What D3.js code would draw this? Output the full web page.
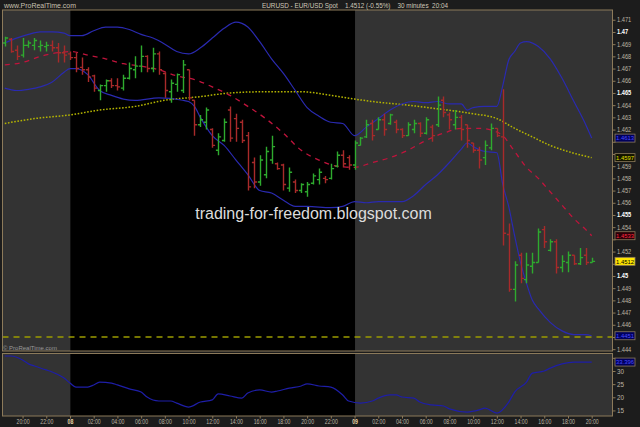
<!DOCTYPE html>
<html><head><meta charset="utf-8">
<script src="https://cdn.jsdelivr.net/npm/d3@7/dist/d3.min.js"></script>
<style>html,body{margin:0;padding:0;background:#1c1c1c;}svg{display:block;}text{font-family:"Liberation Sans",Arial,sans-serif;white-space:pre;}</style>
</head><body>
<svg id="c" width="640" height="427"></svg>
<script>
// ---------- DATA ----------
const timeLabels = ["20:00","22:00","08","02:00","04:00","06:00","08:00","10:00","12:00","14:00","16:00","18:00","20:00","22:00","09","02:00","04:00","06:00","08:00","10:00","12:00","14:00","16:00","18:00","20:00"];
const timeLabelIdx = [3,7,11,15,19,23,27,31,35,39,43,47,51,55,59,63,67,71,75,79,83,87,91,95,99];

const openP = [1.4691,1.4694,1.4685,1.4681,1.4689,1.4689,1.4688,1.4688,1.4689,1.4687,
1.4683,1.4682,1.4679,1.4671,1.4669,1.4664,1.4652,1.4656,1.4660,1.4656,
1.4654,1.4662,1.4669,1.4672,1.4680,1.4670,1.4682,1.4666,1.4651,1.4657,
1.4652,1.4669,1.4644,1.4624,1.4626,1.4620,1.4603,1.4611,1.4636,1.4629,
1.4626,1.4615,1.4593,1.4577,1.4583,1.4595,1.4592,1.4591,1.4572,1.4577,
1.4570,1.4569,1.4576,1.4579,1.4580,1.4580,1.4590,1.4599,1.4597,1.4591,
1.4607,1.4614,1.4625,1.4620,1.4628,1.4625,1.4626,1.4620,1.4615,1.4620,
1.4625,1.4617,1.4622,1.4624,1.4644,1.4632,1.4624,1.4630,1.4624,1.4609,
1.4603,1.4597,1.4605,1.4621,1.4614,1.4534,1.4489,1.4517,1.4497,1.4508,
1.4511,1.4538,1.4521,1.4528,1.4507,1.4511,1.4517,1.4510,1.4517,1.4511];
const highP = [1.4696,1.4695,1.4689,1.4695,1.4693,1.4695,1.4693,1.4692,1.4693,1.4691,
1.4689,1.4684,1.4683,1.4679,1.4671,1.4665,1.4657,1.4661,1.4662,1.4662,
1.4665,1.4675,1.4680,1.4689,1.4681,1.4687,1.4684,1.4667,1.4661,1.4666,
1.4677,1.4669,1.4644,1.4632,1.4638,1.4621,1.4617,1.4629,1.4639,1.4633,
1.4628,1.4618,1.4597,1.4599,1.4606,1.4615,1.4593,1.4592,1.4589,1.4579,
1.4576,1.4577,1.4584,1.4588,1.4582,1.4592,1.4602,1.4603,1.4599,1.4611,
1.4614,1.4628,1.4628,1.4630,1.4633,1.4633,1.4628,1.4621,1.4626,1.4628,
1.4626,1.4630,1.4624,1.4647,1.4647,1.4634,1.4636,1.4632,1.4624,1.4609,
1.4606,1.4611,1.4625,1.4621,1.4653,1.4543,1.4512,1.4519,1.4519,1.4519,
1.4539,1.4541,1.4530,1.4530,1.4517,1.4520,1.4517,1.4523,1.4523,1.4515];
const lowP = [1.4688,1.4683,1.4677,1.4679,1.4687,1.4685,1.4684,1.4684,1.4684,1.4675,
1.4675,1.4677,1.4667,1.4665,1.4659,1.4651,1.4644,1.4651,1.4654,1.4652,
1.4652,1.4661,1.4662,1.4667,1.4667,1.4667,1.4665,1.4646,1.4642,1.4651,
1.4650,1.4644,1.4615,1.4622,1.4620,1.4605,1.4599,1.4610,1.4610,1.4610,
1.4609,1.4570,1.4572,1.4574,1.4580,1.4592,1.4587,1.4570,1.4569,1.4568,
1.4568,1.4565,1.4575,1.4575,1.4576,1.4579,1.4589,1.4589,1.4587,1.4587,
1.4607,1.4613,1.4611,1.4620,1.4615,1.4624,1.4617,1.4613,1.4615,1.4617,
1.4614,1.4616,1.4610,1.4622,1.4630,1.4620,1.4620,1.4611,1.4605,1.4601,
1.4588,1.4591,1.4603,1.4614,1.4525,1.4487,1.4479,1.4494,1.4494,1.4502,
1.4511,1.4523,1.4520,1.4502,1.4503,1.4503,1.4509,1.4509,1.4509,1.4511];
const closeP = [1.4695,1.4684,1.4680,1.4689,1.4691,1.4693,1.4689,1.4689,1.4687,1.4683,
1.4681,1.4679,1.4670,1.4669,1.4663,1.4654,1.4656,1.4660,1.4656,1.4655,
1.4662,1.4670,1.4672,1.4680,1.4670,1.4682,1.4669,1.4652,1.4658,1.4665,
1.4673,1.4646,1.4624,1.4628,1.4636,1.4607,1.4614,1.4626,1.4613,1.4621,
1.4611,1.4573,1.4577,1.4595,1.4602,1.4606,1.4588,1.4575,1.4585,1.4570,
1.4575,1.4575,1.4582,1.4585,1.4579,1.4588,1.4599,1.4592,1.4591,1.4609,
1.4613,1.4624,1.4615,1.4628,1.4620,1.4632,1.4620,1.4615,1.4624,1.4625,
1.4617,1.4628,1.4615,1.4640,1.4634,1.4628,1.4630,1.4620,1.4611,1.4603,
1.4595,1.4607,1.4621,1.4615,1.4535,1.4489,1.4509,1.4498,1.4509,1.4511,
1.4536,1.4528,1.4528,1.4507,1.4512,1.4517,1.4510,1.4515,1.4511,1.4512];

// Bollinger upper / lower bands  [bar index, price]
const upperBand = [[0,1.4691],[2,1.4695],[4,1.4698],[6,1.4700],[8,1.4700],[10,1.4699],[11,1.4697],[13,1.4697],[15,1.4701],[17,1.4704],[19,1.4704],[21,1.4702],[23,1.4698],[25,1.4695],[27,1.4690],[29,1.4684],[31,1.4682],[33,1.4687],[35,1.4695],[37,1.4703],[39,1.4708],[41,1.4704],[43,1.4692],[45,1.4678],[47,1.4666],[49,1.4652],[51,1.4638],[53,1.4631],[55,1.4626],[57,1.4625],[59,1.4615],[61,1.4622],[63,1.4629],[65,1.4636],[67,1.4641],[69,1.4643],[71,1.4642],[73,1.4643],[75,1.4641],[77,1.4641],[78,1.4636],[79,1.4638],[81,1.4639],[83,1.4639],[84,1.4656],[85,1.4677],[86,1.4684],[87,1.4691],[88,1.4692],[90,1.4688],[92,1.4678],[94,1.4662],[96,1.4643],[98,1.4624],[99,1.4613]];
const lowerBand = [[0,1.4654],[2,1.4652],[4,1.4653],[6,1.4655],[8,1.4659],[10,1.4667],[11,1.4670],[12,1.4670],[14,1.4665],[16,1.4652],[18,1.4648],[20,1.4645],[22,1.4644],[26,1.4646],[30,1.4644],[31,1.4643],[32,1.4639],[33,1.4630],[35,1.4615],[37,1.4607],[39,1.4595],[41,1.4583],[43,1.4570],[45,1.4568],[47,1.4562],[49,1.4557],[51,1.4557],[55,1.4556],[57,1.4557],[59,1.4561],[61,1.4560],[63,1.4561],[67,1.4561],[69,1.4566],[71,1.4575],[73,1.4583],[75,1.4593],[77,1.4604],[78,1.4609],[79,1.4606],[81,1.4602],[83,1.4601],[84,1.4575],[85,1.4557],[86,1.4533],[87,1.4511],[88,1.4494],[89,1.4480],[90,1.4473],[92,1.4462],[94,1.4455],[96,1.4452],[98,1.4452],[99,1.4451]];
// short moving average (red dashed) and long moving average (yellow dotted)
const shortMA = [[0,1.4673],[3,1.4675],[6,1.4680],[9,1.4683],[11,1.4684],[14,1.4681],[17,1.4678],[20,1.4674],[23,1.4672],[26,1.4669],[29,1.4664],[32,1.4661],[35,1.4655],[38,1.4648],[41,1.4639],[44,1.4629],[47,1.4617],[50,1.4603],[53,1.4595],[56,1.4590],[59,1.4589],[62,1.4593],[65,1.4597],[68,1.4603],[71,1.4611],[74,1.4617],[77,1.4621],[80,1.4621],[83,1.4618],[84,1.4615],[86,1.4602],[88,1.4589],[90,1.4580],[92,1.4569],[94,1.4558],[96,1.4547],[98,1.4538],[99,1.4533]];
const longMA = [[0,1.4625],[5,1.4629],[11,1.4632],[16,1.4636],[22,1.4639],[27,1.4644],[33,1.4647],[38,1.4650],[44,1.4651],[50,1.4651],[55,1.4648],[59,1.4645],[62,1.4643],[68,1.4640],[73,1.4637],[79,1.4633],[83,1.4629],[86,1.4621],[89,1.4614],[92,1.4607],[95,1.4602],[99,1.4597]];
const levelLine = [1.4450];
// lower panel indicator
const indicator = [[0,35.7],[1,35.7],[3,34.2],[4,32.7],[5,31.9],[7,30.4],[8,29.6],[10,27.3],[11,25.4],[12,23.9],[14,23.9],[15,24.7],[16,25.8],[18,25.4],[19,24.7],[21,23.2],[23,22.0],[24,20.1],[26,18.6],[28,18.6],[29,17.8],[31,16.3],[33,18.2],[35,19.0],[36,21.3],[38,20.5],[40,19.7],[41,21.6],[43,22.8],[45,22.0],[46,22.4],[48,23.5],[50,24.3],[51,25.1],[53,24.3],[55,23.9],[57,20.9],[58,18.6],[60,17.8],[62,18.6],[63,19.7],[65,20.9],[66,20.9],[67,20.1],[69,19.7],[70,18.2],[72,17.1],[74,16.7],[75,15.6],[78,14.4],[80,15.2],[81,15.9],[83,14.0],[85,18.2],[86,22.0],[88,25.8],[89,29.2],[91,30.0],[92,31.1],[94,32.7],[96,33.4],[99,33.396]];

const priceTicks = [1.444,1.445,1.446,1.447,1.448,1.449,1.450,1.451,1.452,1.453,1.454,1.455,1.456,1.457,1.458,1.459,1.460,1.461,1.462,1.463,1.464,1.465,1.466,1.467,1.468,1.469,1.470,1.471];
const boldTicks = [1.445,1.450,1.455,1.460,1.465,1.470];
const indTicks = [15,20,25,30,35];
const headerLeft = "www.ProRealTime.com";
const titleText = "EURUSD - EUR/USD Spot    1.4512 (-0.55%)    30 minutes  20:04";
const watermark = "trading-for-freedom.blogspot.com";
const copyright = "\u00a9 ProRealTime.com";

// ---------- LAYOUT ----------
const W=640,H=427;
const L=2.5,R=612.5,T=10,B1=351,T2=353.5,B2=416;
const svg=d3.select("#c");
svg.append("rect").attr("width",W).attr("height",H).attr("fill","#1c1c1c");

const x=d3.scaleLinear().domain([0,openP.length-1]).range([4.77,591.7]);
const y=d3.scaleLinear().domain([1.44385,1.4718]).range([B1,T]);
const y2=d3.scaleLinear().domain([12.89,36.65]).range([B2,T2]);

const BORDER="#8c7a5a";
const dayStarts = timeLabelIdx.filter((d,i)=>timeLabels[i].length===2);
const edges=[L,...dayStarts.map(d=>x(d)+0.5),R];

const defs=svg.append("defs");
defs.append("clipPath").attr("id","cm").append("rect").attr("x",L).attr("y",T).attr("width",R-L).attr("height",B1-T);
defs.append("clipPath").attr("id","cl").append("rect").attr("x",L).attr("y",T2).attr("width",R-L).attr("height",B2-T2);

function shade(top,bot){
  for(let k=0;k<edges.length-1;k++){
    svg.append("rect").attr("x",edges[k]).attr("y",top).attr("width",edges[k+1]-edges[k]).attr("height",bot-top)
      .attr("fill",k%2===0?"#333333":"#000000");
  }
}
shade(T,B1); shade(T2,B2);

function condense(sel,f){sel.each(function(){const w=this.getComputedTextLength();d3.select(this).attr("textLength",w*f).attr("lengthAdjust","spacingAndGlyphs");});}

// ---------- MAIN PANEL ----------
const gm=svg.append("g").attr("clip-path","url(#cm)");
gm.selectAll("line.level").data(levelLine).join("line").attr("x1",L).attr("x2",R)
  .attr("y1",d=>y(d)).attr("y2",d=>y(d)).attr("stroke","#9c9c00").attr("stroke-width",1.4).attr("stroke-dasharray","6,5");

const line=d3.line().x(d=>x(d[0])).y(d=>y(d[1])).curve(d3.curveMonotoneX);
gm.append("path").attr("d",line(longMA)).attr("fill","none").attr("stroke","#b4b400").attr("stroke-width",1.5).attr("stroke-dasharray","1.6,1.6");
gm.append("path").attr("d",line(upperBand)).attr("fill","none").attr("stroke","#2a2ab0").attr("stroke-width",1.2);
gm.append("path").attr("d",line(lowerBand)).attr("fill","none").attr("stroke","#2a2ab0").attr("stroke-width",1.2);
gm.append("path").attr("d",line(shortMA)).attr("fill","none").attr("stroke","#c0143c").attr("stroke-width",1.3).attr("stroke-dasharray","5,5");

const bars=d3.range(openP.length).map(i=>({i,o:openP[i],h:highP[i],l:lowP[i],c:closeP[i]}));
gm.selectAll("path.bar").data(bars).join("path").attr("class","bar")
  .attr("d",d=>{const cx=Math.round(x(d.i))+0.5;return `M${cx},${y(d.h)}V${y(d.l)}M${cx-2.6},${y(d.o)}H${cx}M${cx},${y(d.c)}H${cx+2.6}`;})
  .attr("fill","none").attr("stroke-width",1.4)
  .attr("stroke",d=>d.c>=d.o?"#2eaa2e":"#a82a2a");

svg.append("text").attr("x",313.5).attr("y",219).attr("text-anchor","middle").attr("font-size",16).attr("fill","#dcdcdc").text(watermark);
svg.append("text").attr("x",3).attr("y",350).attr("font-size",6).attr("fill","#9a9a9a").text(copyright);

// ---------- LOWER PANEL ----------
const gl=svg.append("g").attr("clip-path","url(#cl)");
const line2=d3.line().x(d=>x(d[0])).y(d=>y2(d[1])).curve(d3.curveMonotoneX);
gl.append("path").attr("d",line2(indicator)).attr("fill","none").attr("stroke","#1e1ea8").attr("stroke-width",1.2);

// borders
svg.append("rect").attr("x",L).attr("y",T).attr("width",R-L).attr("height",B1-T).attr("fill","none").attr("stroke",BORDER);
svg.append("rect").attr("x",L).attr("y",T2).attr("width",R-L).attr("height",B2-T2).attr("fill","none").attr("stroke",BORDER);

// ---------- VALUE BOXES (positions) ----------
const boxes=[
  {v:upperBand[upperBand.length-1][1],s:y,fill:"#00005c",col:"#4c4cff",d:4},
  {v:longMA[longMA.length-1][1],s:y,fill:"#141400",col:"#e0e000",d:4},
  {v:shortMA[shortMA.length-1][1],s:y,fill:"#2a0008",col:"#ff2a40",d:4},
  {v:closeP[closeP.length-1],s:y,fill:"#ffe600",col:"#000000",d:4},
  {v:lowerBand[lowerBand.length-1][1],s:y,fill:"#00005c",col:"#4c4cff",d:4},
  {v:indicator[indicator.length-1][1],s:y2,fill:"#00005c",col:"#4c4cff",d:3}
];
const boxYs=boxes.map(b=>b.s(b.v));
const hidden=yy=>boxYs.some(b=>Math.abs(b-yy)<7.2);

// ---------- AXES ----------
const fmt=d=>String(+d.toFixed(3));
const ay=svg.append("g").attr("transform",`translate(${R},0)`)
  .call(d3.axisRight(y).tickValues(priceTicks).tickSize(3).tickPadding(1.5).tickFormat(fmt));
ay.select(".domain").remove();
ay.selectAll(".tick line").attr("stroke",BORDER);
ay.selectAll(".tick text").attr("font-size",6.3).attr("font-family","Liberation Sans, Arial, sans-serif")
  .attr("fill",d=>boldTicks.some(b=>Math.abs(b-d)<1e-7)?"#ffffff":"#bdb5a5")
  .attr("font-weight",d=>boldTicks.some(b=>Math.abs(b-d)<1e-7)?"bold":"normal");
condense(ay.selectAll(".tick text"),0.9);
ay.selectAll(".tick text").filter(d=>hidden(y(d))).remove();

const ay2=svg.append("g").attr("transform",`translate(${R},0)`)
  .call(d3.axisRight(y2).tickValues(indTicks).tickSize(3).tickPadding(1.5));
ay2.select(".domain").remove();
ay2.selectAll(".tick line").attr("stroke",BORDER);
ay2.selectAll(".tick text").attr("font-size",6.3).attr("font-family","Liberation Sans, Arial, sans-serif").attr("fill","#bdb5a5");
ay2.selectAll(".tick text").filter(d=>hidden(y2(d))).remove();

const ax=svg.append("g").attr("transform",`translate(0,${B2})`)
  .call(d3.axisBottom(x).tickValues(timeLabelIdx).tickSize(2.5).tickPadding(1).tickFormat((d,i)=>timeLabels[i]));
ax.select(".domain").remove();
ax.selectAll(".tick line").attr("stroke",BORDER);
ax.selectAll(".tick text").attr("font-size",6.5).attr("font-family","Liberation Sans, Arial, sans-serif")
  .attr("fill",(d,i)=>timeLabels[i].length===2?"#e8d4a8":"#bdb5a5")
  .attr("font-weight",(d,i)=>timeLabels[i].length===2?"bold":"normal");
condense(ax.selectAll(".tick text"),0.8);

// ---------- VALUE BOXES (draw) ----------
const gb=svg.selectAll("g.box").data(boxes).join("g").attr("transform",d=>`translate(615,${d.s(d.v)})`);
gb.append("rect").attr("x",0).attr("y",-4).attr("width",20).attr("height",8).attr("fill",d=>d.fill).attr("stroke",BORDER).attr("stroke-width",0.8);
gb.append("text").attr("x",10).attr("y",2.2).attr("text-anchor","middle").attr("font-size",6).attr("fill",d=>d.col).text(d=>d.v.toFixed(d.d))
  .each(function(){const w=this.getComputedTextLength();if(w>18)d3.select(this).attr("textLength",18).attr("lengthAdjust","spacingAndGlyphs");});

// ---------- HEADER ----------
const h1=svg.append("text").attr("x",4).attr("y",8.3).attr("font-size",7.5).attr("fill","#c8c0b0").text(headerLeft);
h1.attr("textLength",72).attr("lengthAdjust","spacingAndGlyphs");
const h2=svg.append("text").attr("x",262).attr("y",8.3).attr("font-size",7.5).attr("fill","#d0c8b8").text(titleText);
h2.attr("textLength",186).attr("lengthAdjust","spacingAndGlyphs");
</script>
</body></html>
